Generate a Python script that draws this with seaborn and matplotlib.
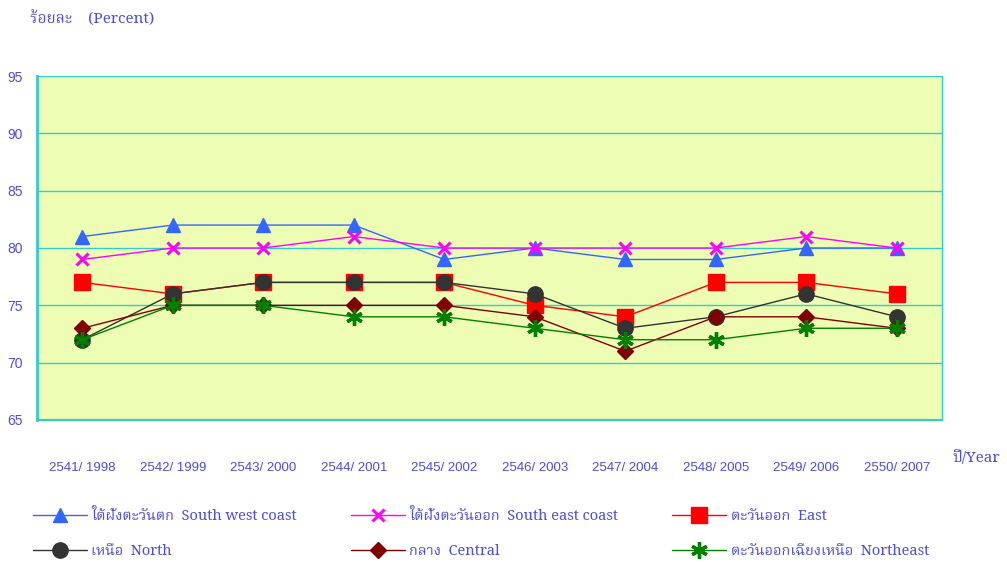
import matplotlib
matplotlib.use("Agg")
import matplotlib.pyplot as plt
import seaborn as sns
import pandas as pd
import numpy as np

years = ["2541/ 1998", "2542/ 1999", "2543/ 2000", "2544/ 2001", "2545/ 2002",
         "2546/ 2003", "2547/ 2004", "2548/ 2005", "2549/ 2006", "2550/ 2007"]

south_west = [81, 82, 82, 82, 79, 80, 79, 79, 80, 80]
south_east = [79, 80, 80, 81, 80, 80, 80, 80, 81, 80]
east = [77, 76, 77, 77, 77, 75, 74, 77, 77, 76]
north = [72, 76, 77, 77, 77, 76, 73, 74, 76, 74]
central = [73, 75, 75, 75, 75, 74, 71, 74, 74, 73]
northeast = [72, 75, 75, 74, 74, 73, 72, 72, 73, 73]

regions = ["ใต้ฝั่งตะวันตก  South west coast", "ใต้ฝั่งตะวันออก  South east coast",
           "ตะวันออก  East", "เหนือ  North", "กลาง  Central",
           "ตะวันออกเฉียงเหนือ  Northeast"]
series = [south_west, south_east, east, north, central, northeast]

colors = ["#3366FF", "#FF00FF", "#FF0000", "#333333", "#800000", "#008000"]
markers = ["^", "x", "s", "o", "D", (6, 2, 0)]
msizes = [10, 9, 11, 11, 8, 12]
mews = [1, 2.2, 1, 1, 1, 2.4]

df = pd.DataFrame({
    "year": years * len(regions),
    "pos": list(range(len(years))) * len(regions),
    "region": np.repeat(regions, len(years)),
    "value": sum(series, []),
})

sns.set_theme(style="white")
thai = ["Noto Serif Thai", "DejaVu Sans"]
txt = "#4D4DE0"
teal = "#33CCCC"

fig = plt.figure(figsize=(10.07, 5.62), dpi=100)
ax = fig.add_axes([37 / 1007, 1 - 420 / 562, 905 / 1007, 344 / 562])
ax.set_facecolor("#EEFDB4")

handles = []
for i, reg in enumerate(regions):
    d = df[df["region"] == reg]
    sns.lineplot(data=d, x="pos", y="value", ax=ax, color=colors[i], lw=1,
                 marker=markers[i], markersize=msizes[i], markeredgewidth=mews[i],
                 markeredgecolor=colors[i], label=reg, legend=False)
    handles.append(ax.lines[-1])

ax.set_xlim(-0.5, len(years) - 0.5)
ax.set_ylim(65, 95)
ax.set_yticks(range(65, 96, 5))
ax.set_yticklabels([str(v) for v in range(65, 96, 5)], color=txt,
                   fontsize=10, family="Liberation Sans")
ax.set_xticks(range(len(years)))
ax.set_xticklabels(years, color=txt, fontsize=9.5, family="Liberation Sans")
ax.set_xticks(np.arange(-0.5, len(years), 1), minor=True)
ax.tick_params(axis="x", which="major", length=0, pad=30)
ax.tick_params(axis="x", which="minor", length=5, color=teal, width=1.2)
ax.tick_params(axis="y", length=6, color=teal, width=1.2, pad=4)
ax.grid(axis="y", color=teal, lw=1)
ax.set_axisbelow(True)
for s in ax.spines.values():
    s.set_color(teal)
ax.spines["left"].set_linewidth(2)
ax.spines["top"].set_visible(False)
ax.spines["right"].set_linewidth(1)
ax.spines["bottom"].set_linewidth(1.5)
ax.set_xlabel("")
ax.set_ylabel("")

fig.text(30 / 1007, 1 - 19 / 562, "ร้อยละ    (Percent)", color=txt, fontsize=11,
         family=thai, va="center")
fig.text(952 / 1007, 1 - 458 / 562, "ปี/Year", color=txt, fontsize=11,
         family=thai, va="center")

order = [0, 3, 1, 4, 2, 5]
leg = fig.legend([handles[k] for k in order], [regions[k] for k in order],
                 ncol=3, loc="upper left", bbox_to_anchor=(20 / 1007, 1 - 496 / 562),
                 frameon=False, handlelength=3.7, columnspacing=3.7, labelspacing=1.35,
                 handletextpad=0.3, prop={"family": thai, "size": 10.5})
for t in leg.get_texts():
    t.set_color(txt)

fig.savefig("out.png", dpi=100)
